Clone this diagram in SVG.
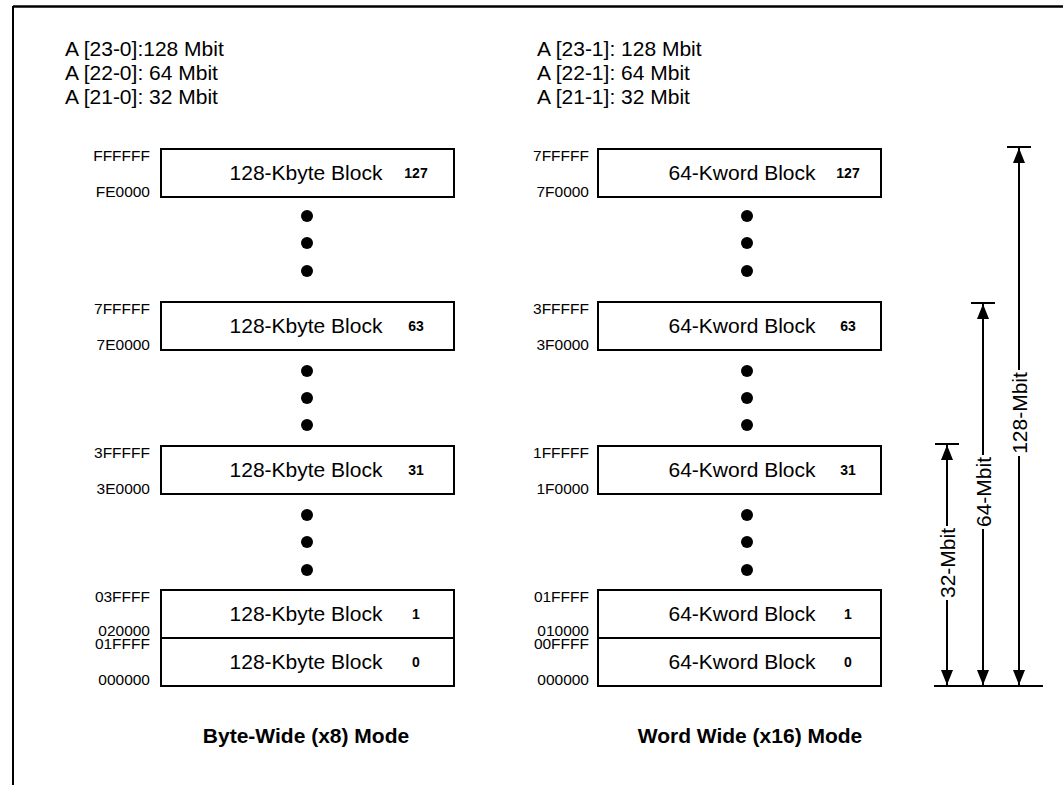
<svg xmlns="http://www.w3.org/2000/svg" width="1063" height="785" viewBox="0 0 1063 785">
<defs>
<style>
.t{font-family:"Liberation Sans",Arial,sans-serif;fill:#000}
.hdr{font-size:21px}
.lbl{font-size:21px;text-anchor:middle}
.num{font-size:14px;font-weight:bold;text-anchor:middle}
.adr{font-size:15.5px;text-anchor:end}
.cap{font-size:21px;font-weight:bold;text-anchor:middle}
.dim{font-size:21px;text-anchor:middle}
.box{fill:#fff;stroke:#000;stroke-width:2}
.ln{stroke:#000;stroke-width:2;fill:none}
.dot{fill:#000}
</style>
<marker id="ah" viewBox="0 0 15 12" refX="15" refY="6" markerWidth="15" markerHeight="12" markerUnits="userSpaceOnUse" orient="auto">
<path d="M0,0 L15,6 L0,12 z" fill="#000"/>
</marker>
</defs>
<rect width="1063" height="785" fill="#fff"/>
<g id="frame">
<line x1="13" y1="6.5" x2="1063" y2="6.5" stroke="#000" stroke-width="2.5"/>
<line x1="13" y1="6" x2="13" y2="785" stroke="#000" stroke-width="2"/>
</g>
<g id="header-left" class="t hdr">
<text x="65" y="56">A [23-0]:128 Mbit</text>
<text x="65" y="80">A [22-0]: 64 Mbit</text>
<text x="65" y="104">A [21-0]: 32 Mbit</text>
</g>
<g id="header-right" class="t hdr">
<text x="537" y="56">A [23-1]: 128 Mbit</text>
<text x="537" y="80">A [22-1]: 64 Mbit</text>
<text x="537" y="104">A [21-1]: 32 Mbit</text>
</g>
<g id="byte-block-127">
<rect class="box" x="161" y="149" width="293" height="48"/>
<text class="t lbl" x="306" y="180">128-Kbyte Block</text>
<text class="t num" x="416" y="178">127</text>
<text class="t adr" x="150" y="161">FFFFFF</text>
<text class="t adr" x="150" y="197">FE0000</text>
</g>
<g id="byte-block-63">
<rect class="box" x="161" y="302" width="293" height="48"/>
<text class="t lbl" x="306" y="333">128-Kbyte Block</text>
<text class="t num" x="416" y="331">63</text>
<text class="t adr" x="150" y="314">7FFFFF</text>
<text class="t adr" x="150" y="350">7E0000</text>
</g>
<g id="byte-block-31">
<rect class="box" x="161" y="446" width="293" height="48"/>
<text class="t lbl" x="306" y="477">128-Kbyte Block</text>
<text class="t num" x="416" y="475">31</text>
<text class="t adr" x="150" y="458">3FFFFF</text>
<text class="t adr" x="150" y="494">3E0000</text>
</g>
<g id="byte-block-1">
<rect class="box" x="161" y="590" width="293" height="48"/>
<text class="t lbl" x="306" y="621">128-Kbyte Block</text>
<text class="t num" x="416" y="619">1</text>
<text class="t adr" x="150" y="602">03FFFF</text>
<text class="t adr" x="150" y="636">020000</text>
</g>
<g id="byte-block-0">
<rect class="box" x="161" y="638" width="293" height="48"/>
<text class="t lbl" x="306" y="669">128-Kbyte Block</text>
<text class="t num" x="416" y="667">0</text>
<text class="t adr" x="150" y="649">01FFFF</text>
<text class="t adr" x="150" y="685">000000</text>
</g>
<g id="byte-dots">
<circle class="dot" cx="307" cy="216" r="6"/><circle class="dot" cx="307" cy="243" r="6"/><circle class="dot" cx="307" cy="271" r="6"/>
<circle class="dot" cx="307" cy="371" r="6"/><circle class="dot" cx="307" cy="398" r="6"/><circle class="dot" cx="307" cy="425" r="6"/>
<circle class="dot" cx="307" cy="515" r="6"/><circle class="dot" cx="307" cy="542" r="6"/><circle class="dot" cx="307" cy="570" r="6"/>
</g>
<g id="word-block-127">
<rect class="box" x="598" y="149" width="283" height="48"/>
<text class="t lbl" x="742" y="180">64-Kword Block</text>
<text class="t num" x="848" y="178">127</text>
<text class="t adr" x="589" y="161">7FFFFF</text>
<text class="t adr" x="589" y="197">7F0000</text>
</g>
<g id="word-block-63">
<rect class="box" x="598" y="302" width="283" height="48"/>
<text class="t lbl" x="742" y="333">64-Kword Block</text>
<text class="t num" x="848" y="331">63</text>
<text class="t adr" x="589" y="314">3FFFFF</text>
<text class="t adr" x="589" y="350">3F0000</text>
</g>
<g id="word-block-31">
<rect class="box" x="598" y="446" width="283" height="48"/>
<text class="t lbl" x="742" y="477">64-Kword Block</text>
<text class="t num" x="848" y="475">31</text>
<text class="t adr" x="589" y="458">1FFFFF</text>
<text class="t adr" x="589" y="494">1F0000</text>
</g>
<g id="word-block-1">
<rect class="box" x="598" y="590" width="283" height="48"/>
<text class="t lbl" x="742" y="621">64-Kword Block</text>
<text class="t num" x="848" y="619">1</text>
<text class="t adr" x="589" y="602">01FFFF</text>
<text class="t adr" x="589" y="636">010000</text>
</g>
<g id="word-block-0">
<rect class="box" x="598" y="638" width="283" height="48"/>
<text class="t lbl" x="742" y="669">64-Kword Block</text>
<text class="t num" x="848" y="667">0</text>
<text class="t adr" x="589" y="649">00FFFF</text>
<text class="t adr" x="589" y="685">000000</text>
</g>
<g id="word-dots">
<circle class="dot" cx="747" cy="216" r="6"/><circle class="dot" cx="747" cy="243" r="6"/><circle class="dot" cx="747" cy="271" r="6"/>
<circle class="dot" cx="747" cy="371" r="6"/><circle class="dot" cx="747" cy="398" r="6"/><circle class="dot" cx="747" cy="425" r="6"/>
<circle class="dot" cx="747" cy="515" r="6"/><circle class="dot" cx="747" cy="542" r="6"/><circle class="dot" cx="747" cy="570" r="6"/>
</g>
<g id="captions">
<text class="t cap" x="306" y="743">Byte-Wide (x8) Mode</text>
<text class="t cap" x="750" y="743">Word Wide (x16) Mode</text>
</g>
<g id="connectors">
<line class="ln" x1="934" y1="686" x2="1043" y2="686"/>
<line class="ln" x1="1007" y1="147" x2="1031" y2="147"/>
<line class="ln" x1="971" y1="303" x2="995" y2="303"/>
<line class="ln" x1="935" y1="444" x2="959" y2="444"/>
<line class="ln" x1="1019" y1="370" x2="1019" y2="148" marker-end="url(#ah)"/>
<line class="ln" x1="1019" y1="456" x2="1019" y2="685" marker-end="url(#ah)"/>
<line class="ln" x1="983" y1="455" x2="983" y2="304" marker-end="url(#ah)"/>
<line class="ln" x1="983" y1="529" x2="983" y2="685" marker-end="url(#ah)"/>
<line class="ln" x1="947" y1="526" x2="947" y2="445" marker-end="url(#ah)"/>
<line class="ln" x1="947" y1="600" x2="947" y2="685" marker-end="url(#ah)"/>
</g>
<g id="dim-labels">
<text class="t dim" transform="translate(1026.5,413) rotate(-90)">128-Mbit</text>
<text class="t dim" transform="translate(990.5,492) rotate(-90)">64-Mbit</text>
<text class="t dim" transform="translate(954.5,563) rotate(-90)">32-Mbit</text>
</g>
</svg>
